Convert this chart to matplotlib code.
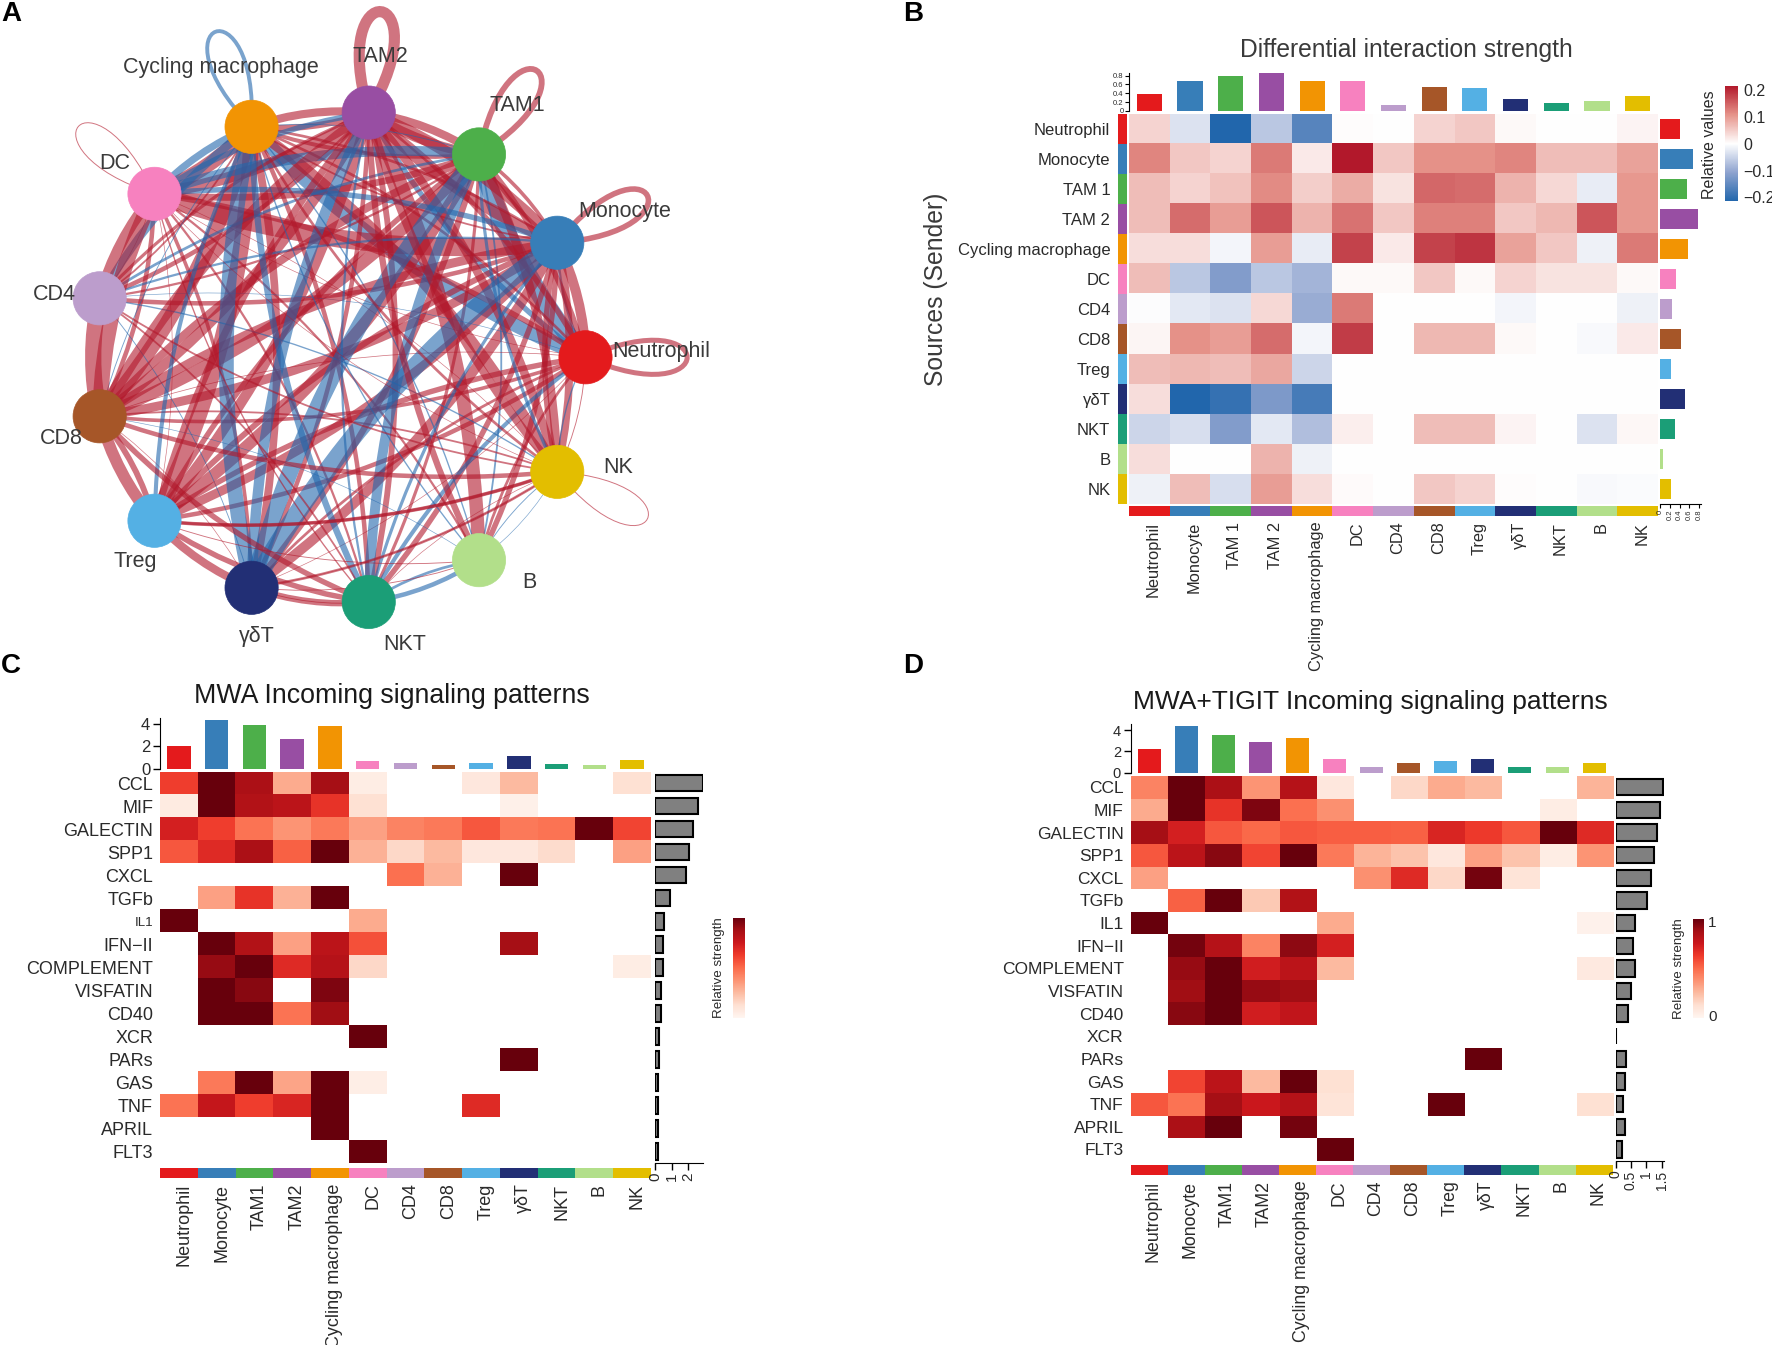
import numpy as np
import matplotlib
matplotlib.use("Agg")
import matplotlib.pyplot as plt
from matplotlib.path import Path
from matplotlib.patches import PathPatch, Ellipse
from matplotlib.colors import LinearSegmentedColormap
from matplotlib.cm import ScalarMappable
from matplotlib.colors import Normalize
from matplotlib.transforms import ScaledTranslation

plt.rcParams['font.family'] = ['Liberation Sans', 'DejaVu Sans']
W, H = 1772, 1345
TXT = '#2a2a2a'
plt.rcParams['text.color'] = TXT

CELLS = ['Neutrophil', 'Monocyte', 'TAM1', 'TAM2', 'Cycling macrophage', 'DC', 'CD4', 'CD8',
         'Treg', 'γδT', 'NKT', 'B', 'NK']
COLORS = ['#E41A1C', '#377EB8', '#4DAF4A', '#984EA3', '#F29403', '#F781BF', '#BC9DCC', '#A65628',
          '#54B0E4', '#222F75', '#1B9E77', '#B2DF8A', '#E3BE00']

DIFF = np.array([
    [.04, -.03, -.20, -.06, -.15, .003, 0, .04, .05, .005, 0, 0, .01],
    [.11, .05, .04, .12, .02, .20, .05, .10, .10, .11, .06, .06, .085],
    [.06, .04, .055, .105, .045, .075, .025, .135, .13, .07, .035, -.02, .095],
    [.06, .13, .09, .15, .07, .125, .05, .115, .115, .05, .065, .15, .095],
    [.03, .03, -.01, .09, -.02, .165, .02, .165, .175, .085, .05, -.015, .12],
    [.06, -.06, -.11, -.06, -.08, .005, .005, .05, .005, .04, .025, .025, .005],
    [-.003, -.025, -.03, .035, -.09, .12, 0, 0, 0, -.01, 0, 0, -.015],
    [.008, .10, .09, .13, -.01, .17, 0, .065, .065, .005, 0, -.005, .02],
    [.06, .065, .06, .08, -.045, 0, 0, 0, 0, 0, 0, 0, 0],
    [.03, -.20, -.18, -.115, -.165, 0, 0, 0, 0, 0, 0, 0, 0],
    [-.045, -.035, -.11, -.025, -.07, .015, 0, .06, .06, .01, 0, -.03, .007],
    [.03, 0, 0, .07, -.015, 0, 0, 0, 0, 0, 0, 0, 0],
    [-.015, .06, -.035, .09, .03, .004, 0, .05, .04, .003, 0, -.005, -.004],
])
DIFF_TOP = [.38, .68, .80, .87, .68, .67, .13, .55, .53, .26, .17, .22, .34]
DIFF_RIGHT = [.40, .67, .55, .78, .58, .33, .24, .42, .22, .51, .31, .06, .22]

# edges seen in the network that have no cell in the heatmap: sender, receiver, weight
EXTRA_EDGES = [('CD8', 'CD4', .18), ('Treg', 'CD8', .13), ('γδT', 'Treg', .09), ('NKT', 'γδT', .07),
               ('B', 'NKT', -.05), ('CD4', 'NKT', .02), ('B', 'NK', -.01), ('NK', 'γδT', .03),
               ('B', 'γδT', .01), ('NK', 'Treg', .03), ('B', 'Treg', .01), ('NK', 'CD4', .02)]
LOOP_CELLS = ['Neutrophil', 'Monocyte', 'TAM1', 'TAM2', 'Cycling macrophage', 'DC', 'NK']
LOOP_WEIGHTS = [.04, .05, .055, .15, -.02, .005, .005]

SIGNALS = ['CCL', 'MIF', 'GALECTIN', 'SPP1', 'CXCL', 'TGFb', 'IL1', 'IFN−II', 'COMPLEMENT', 'VISFATIN',
           'CD40', 'XCR', 'PARs', 'GAS', 'TNF', 'APRIL', 'FLT3']
n = np.nan
MWA = np.array([
    [.62, 1, .85, .30, .87, .05, n, n, .08, .25, n, n, .12],
    [.06, 1, .83, .80, .65, .12, n, n, n, .03, n, n, n],
    [.72, .62, .47, .37, .45, .33, .42, .45, .55, .45, .47, 1, .60],
    [.55, .68, .85, .52, 1, .28, .15, .25, .08, .08, .14, n, .33],
    [n, n, n, n, n, n, .48, .28, n, 1, n, n, n],
    [n, .33, .65, .28, 1, n, n, n, n, n, n, n, n],
    [1, n, n, n, n, .30, n, n, n, n, n, n, n],
    [n, 1, .83, .33, .80, .57, n, n, n, .87, n, n, n],
    [n, .90, 1, .68, .82, .15, n, n, n, n, n, n, .05],
    [n, 1, .93, n, .95, n, n, n, n, n, n, n, n],
    [n, 1, 1, .47, .88, n, n, n, n, n, n, n, n],
    [n, n, n, n, n, 1, n, n, n, n, n, n, n],
    [n, n, n, n, n, n, n, n, n, 1, n, n, n],
    [n, .45, 1, .32, 1, .04, n, n, n, n, n, n, n],
    [.47, .77, .62, .70, 1, n, n, n, .68, n, n, n, n],
    [n, n, n, n, 1, n, n, n, n, n, n, n, n],
    [n, n, n, n, n, 1, n, n, n, n, n, n, n],
])
MWA_TOP = [2.0, 4.3, 3.9, 2.6, 3.8, .7, .5, .35, .5, 1.15, .4, .35, .75]
MWA_RIGHT = [2.85, 2.55, 2.3, 2.05, 1.85, .9, .55, .45, .45, .35, .35, .25, .25, .15, .15, .15, .15]

TIGIT = np.array([
    [.42, 1, .85, .37, .82, .08, n, .15, .30, .25, n, n, .27],
    [.30, 1, .65, .95, .48, .38, n, n, n, n, n, .05, n],
    [.87, .72, .55, .50, .55, .53, .53, .52, .70, .63, .55, 1, .68],
    [.55, .80, .93, .60, 1, .45, .27, .22, .08, .33, .22, .05, .37],
    [.33, n, n, n, n, n, .38, .68, .15, .97, .10, n, n],
    [n, .52, 1, .20, .83, n, n, n, n, n, n, n, n],
    [1, n, n, n, n, .30, n, n, n, n, n, n, .02],
    [n, .97, .82, .42, .92, .72, n, n, n, n, n, n, n],
    [n, .90, 1, .73, .80, .25, n, n, n, n, n, n, .07],
    [n, .88, 1, .90, .88, n, n, n, n, n, n, n, n],
    [n, .93, 1, .73, .78, n, n, n, n, n, n, n, n],
    [n] * 13,
    [n, n, n, n, n, n, n, n, n, 1, n, n, n],
    [n, .60, .80, .25, 1, .12, n, n, n, n, n, n, n],
    [.55, .47, .87, .75, .82, .10, n, n, 1, n, n, n, .12],
    [n, .85, 1, n, .97, n, n, n, n, n, n, n, n],
    [n, n, n, n, n, 1, n, n, n, n, n, n, n],
])
TIGIT_TOP = [2.2, 4.4, 3.6, 2.9, 3.3, 1.3, .5, .9, 1.1, 1.3, .55, .5, .9]
TIGIT_RIGHT = [1.55, 1.44, 1.34, 1.26, 1.16, 1.01, .64, .55, .64, .49, .41, .02, .34, .29, .24, .29, .2]

fig = plt.figure(figsize=(W / 100, H / 100), dpi=100)


def axpx(x0, y0, x1, y1, **kw):
    return fig.add_axes([x0 / W, 1 - y1 / H, (x1 - x0) / W, (y1 - y0) / H], **kw)


def tpx(x, y, s, **kw):
    kw.setdefault('ha', 'center')
    kw.setdefault('va', 'center')
    return fig.text(x / W, 1 - y / H, s, **kw)


def shift_xlabels(ax, px):
    off = ScaledTranslation(px / 100, 0, fig.dpi_scale_trans)
    for lab in ax.get_xticklabels():
        lab.set_transform(lab.get_transform() + off)


# ---------------- panel letters
for (x, y, s) in [(1, 14, 'A'), (903, 14, 'B'), (1, 666, 'C'), (903, 666, 'D')]:
    tpx(x, y, s, ha='left', fontsize=20, fontweight='bold', color='black')

# ---------------- Panel A
CX, CY, RX, RY = 339, 357.3, 246.5, 246.5
APX = (0, 0, 760, 680)
axA = axpx(*APX, zorder=1)
axA.set_xlim(-CX / RX, (APX[2] - CX) / RX)
axA.set_ylim((CY - APX[3]) / RY, CY / RY)
axA.axis('off')
angles = 2 * np.pi * np.arange(13) / 13
NX, NY = np.cos(angles), np.sin(angles)
RED, BLUE = '#b2182b', '#2166ac'
idx = {c: i for i, c in enumerate(CELLS)}


def edge(i, j, w):
    p, q = np.array([NX[i], NY[i]]), np.array([NX[j], NY[j]])
    d = q - p
    c = (p + q) / 2 + 0.11 * np.array([-d[1], d[0]])
    path = Path([p, c, q], [Path.MOVETO, Path.CURVE3, Path.CURVE3])
    axA.add_patch(PathPatch(path, fc='none', ec=RED if w > 0 else BLUE, alpha=.6,
                            lw=max(.45, abs(w) / .2 * 13), capstyle='butt'))


for i in range(13):
    for j in range(13):
        if i != j and DIFF[i, j] != 0:
            edge(i, j, DIFF[i, j])
for a, b, w in EXTRA_EDGES:
    edge(idx[a], idx[b], w)
for c, w in zip(LOOP_CELLS, LOOP_WEIGHTS):
    i = idx[c]
    p = np.array([NX[i], NY[i]])
    u = p / np.linalg.norm(p)
    v = np.array([-u[1], u[0]])
    path = Path([p, p + .55 * u + .24 * v, p + .55 * u - .24 * v, p],
                [Path.MOVETO, Path.CURVE4, Path.CURVE4, Path.CURVE4])
    axA.add_patch(PathPatch(path, fc='none', ec=RED if w > 0 else BLUE, alpha=.6,
                            lw=max(.7, abs(w) / .2 * 8 + (2 if abs(w) > .01 else 0)), capstyle='butt'))
for i in range(13):
    axA.add_patch(Ellipse((NX[i], NY[i]), .216, .216, fc=COLORS[i], ec=COLORS[i], lw=.5, zorder=5))

LABEL_POS = [(661.7, 352), (625, 211.6), (517.7, 105.4), (380.5, 56.4), (220.5, 67.2), (114.4, 163.5),
             (54.3, 295), (61.6, 438.9), (135.7, 561.6), (257, 636.6), (404.7, 644.8), (529.3, 582.4),
             (618, 467.5)]
for (x, y), s in zip(LABEL_POS, CELLS):
    tpx(x, y, s, fontsize=15.5, color='#3a3a3a', zorder=10)

# ---------------- Panel B
diff_cmap = LinearSegmentedColormap.from_list('diff', [(0, '#2166ac'), (.25, '#8ea3cf'), (.5, '#ffffff'),
                                                       (.75, '#e6938a'), (1, '#b2182b')])
hb = axpx(1129, 114, 1658, 504.3)
hb.imshow(DIFF, cmap=diff_cmap, vmin=-.2, vmax=.2, aspect='auto', interpolation='nearest')
hb.axis('off')

lb = axpx(1118, 114, 1126.5, 504.3)
lb.barh(range(13), 1, height=1, color=COLORS)
lb.set_xlim(0, 1)
lb.set_ylim(12.5, -.5)
lb.set_xticks([])
lb.set_yticks(range(13), [c.replace('TAM', 'TAM ') for c in CELLS], fontsize=12)
lb.tick_params(axis='y', length=0, pad=5.5, labelcolor=TXT)
for s in lb.spines.values():
    s.set_visible(False)

bb = axpx(1129, 506.3, 1658, 516.1)
bb.bar(range(13), 1, width=1, color=COLORS)
bb.set_xlim(-.5, 12.5)
bb.set_ylim(0, 1)
bb.set_yticks([])
bb.set_xticks(range(13), [c.replace('TAM', 'TAM ') for c in CELLS], rotation=90, fontsize=11.8)
bb.tick_params(axis='x', length=0, pad=4, labelcolor=TXT)
shift_xlabels(bb, 4)
for s in bb.spines.values():
    s.set_visible(False)

tb = axpx(1129, 73, 1658, 110.8)
tb.bar(range(13), DIFF_TOP, width=.62, color=COLORS)
tb.set_xlim(-.5, 12.5)
tb.set_ylim(0, 37.8 / 43.9)
tb.set_xticks([])
tb.set_yticks([0, .2, .4, .6, .8], ['0', '0.2', '0.4', '0.6', '0.8'], fontsize=5.5)
tb.tick_params(axis='y', length=3, width=.8, pad=1, labelcolor=TXT)
for k in ('top', 'right', 'bottom'):
    tb.spines[k].set_visible(False)
tb.patch.set_alpha(0)

rb = axpx(1660, 114, 1701, 504.3)
rb.barh(range(13), DIFF_RIGHT, height=.66, color=COLORS)
rb.set_ylim(12.5, -.5)
rb.set_xlim(0, .84)
rb.set_yticks([])
rb.set_xticks([0, .2, .4, .6, .8], ['0', '0.2', '0.4', '0.6', '0.8'], rotation=90, fontsize=5.5)
rb.tick_params(axis='x', length=3, width=.8, pad=1, labelcolor=TXT)
for k in ('top', 'right', 'left'):
    rb.spines[k].set_visible(False)
rb.patch.set_alpha(0)

tpx(1406, 49.6, 'Differential interaction strength', fontsize=17.7, color='#3a3a3a')
tpx(936, 289, 'Sources (Sender)', rotation=90, fontsize=17.8, color='#3a3a3a')

cb = axpx(1725, 85.9, 1737.6, 201.4)
cbar = fig.colorbar(ScalarMappable(Normalize(-.215, .215), diff_cmap), cax=cb)
cbar.outline.set_visible(False)
cbar.set_ticks([-.2, -.1, 0, .1, .2], labels=['−0.2', '−0.1', '0', '0.1', '0.2'], fontsize=11.5)
cb.tick_params(length=0, pad=4, labelcolor=TXT)
tpx(1710, 145, 'Relative values', rotation=90, fontsize=11.5)

# ---------------- Panels C, D
REDS = matplotlib.colormaps['Reds'].copy()
REDS.set_bad('white')


def pattern(mat, top, right, title, hm, strip, bar_y, unit_top, rb_x, rb_max, rticks, rlabels, cbar_box, cb_lab_x,
            title_xy, title_fs, collab_fs, rowlab_fs, tick_fs, cb_labels, rtick_fs, col_shift):
    L, T, R, B = hm
    ax = axpx(L, T, R, B)
    ax.imshow(np.ma.masked_invalid(mat), cmap=REDS, vmin=0, vmax=1, aspect='auto', interpolation='nearest')
    for s in ax.spines.values():
        s.set_visible(False)
    ax.set_xticks([])
    ax.set_yticks(range(len(SIGNALS)), SIGNALS, fontsize=rowlab_fs)
    ax.tick_params(axis='y', length=0, pad=5, labelcolor=TXT)
    for lab, s in zip(ax.get_yticklabels(), SIGNALS):
        if s == 'IL1' and title.startswith('MWA I'):
            lab.set_fontsize(9.5)

    st = axpx(L, strip[0], R, strip[1])
    st.bar(range(13), 1, width=1, color=COLORS)
    st.set_xlim(-.5, 12.5)
    st.set_ylim(0, 1)
    st.set_yticks([])
    st.set_xticks(range(13), CELLS, rotation=90, fontsize=collab_fs)
    st.tick_params(axis='x', length=0, pad=4, labelcolor=TXT)
    shift_xlabels(st, col_shift)
    for s in st.spines.values():
        s.set_visible(False)

    base, ytop = bar_y
    tp = axpx(L, ytop, R, base)
    tp.bar(range(13), top, width=.62, color=COLORS)
    tp.set_xlim(-.5, 12.5)
    tp.set_ylim(0, (base - ytop) / unit_top)
    tp.set_xticks([])
    tp.set_yticks([0, 2, 4])
    tp.tick_params(axis='y', length=5, width=1, pad=2, labelsize=tick_fs, labelcolor=TXT)
    for k in ('top', 'right', 'bottom'):
        tp.spines[k].set_visible(False)
    tp.patch.set_alpha(0)

    rp = axpx(rb_x, T, rb_x + (rb_max[1]), B)
    rp.barh(range(len(SIGNALS)), right, height=.72, color='#808080', edgecolor='black', lw=1.5)
    rp.set_ylim(len(SIGNALS) - .5, -.5)
    rp.set_xlim(0, rb_max[0])
    rp.set_yticks([])
    rp.set_xticks(rticks, rlabels, rotation=90, fontsize=rtick_fs)
    rp.tick_params(axis='x', length=5, width=1, pad=2, labelcolor=TXT)
    for k in ('top', 'right', 'left'):
        rp.spines[k].set_visible(False)
    rp.patch.set_alpha(0)

    cax = axpx(*cbar_box)
    cbr = fig.colorbar(ScalarMappable(Normalize(-.02, 1.03), REDS), cax=cax)
    cbr.outline.set_visible(False)
    if cb_labels:
        cbr.set_ticks([0, 1], labels=cb_labels, fontsize=11)
    else:
        cbr.set_ticks([])
    cax.tick_params(length=0, pad=3, labelcolor=TXT)
    tpx(cb_lab_x, (cbar_box[1] + cbar_box[3]) / 2, 'Relative strength', rotation=90, fontsize=9.6)
    tpx(title_xy[0], title_xy[1], title, fontsize=title_fs, color='#1a1a1a')


pattern(MWA, MWA_TOP, MWA_RIGHT, 'MWA Incoming signaling patterns',
        (160, 771.6, 651, 1162.9), (1168, 1178), (768.6, 718), 11.2,
        655, (2.87, 48), [0, 1, 2], ['0', '1', '2'], (733, 917.5, 744.8, 1017.8), 719,
        (391.5, 695.8), 19.3, 13, 13, 12, None, 11, 5)
pattern(TIGIT, TIGIT_TOP, TIGIT_RIGHT, 'MWA+TIGIT Incoming signaling patterns',
        (1130.6, 775.9, 1612.7, 1160.8), (1165, 1175), (772.5, 723.8), 10.55,
        1615.7, (1.57, 48), [0, .5, 1, 1.5], ['0', '0.5', '1', '1.5'], (1693, 918.8, 1704, 1017.8), 1679,
        (1370, 702.3), 19, 12.8, 12.5, 10.5, ['0', '1'], 10, 4)

fig.savefig('out.png', dpi=100)
